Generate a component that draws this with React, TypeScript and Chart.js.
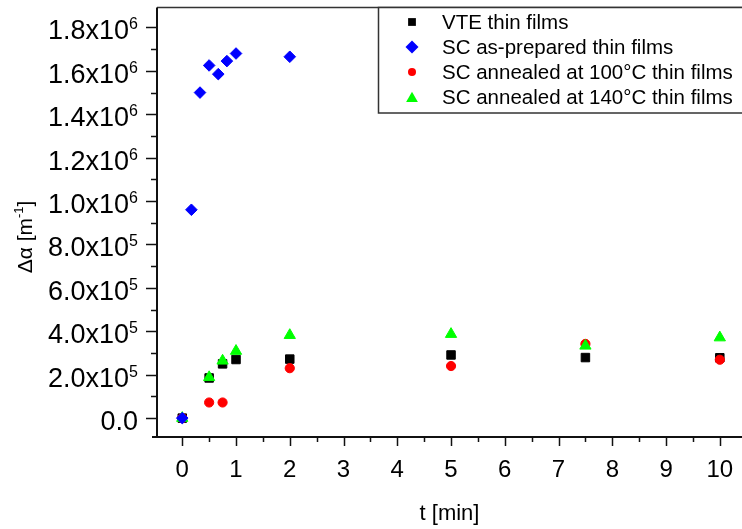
import React, { useEffect, useRef } from 'react';
import { Chart, registerables } from 'chart.js';

Chart.register(...registerables);

// ---- axis ticks ----
const X_TICKS = [0, 1, 2, 3, 4, 5, 6, 7, 8, 9, 10];
const X_MINOR = [0.5, 1.5, 2.5, 3.5, 4.5, 5.5, 6.5, 7.5, 8.5, 9.5];
const Y_TICKS = [0, 2e5, 4e5, 6e5, 8e5, 1e6, 1.2e6, 1.4e6, 1.6e6, 1.8e6];
const Y_MINOR = [1e5, 3e5, 5e5, 7e5, 9e5, 1.1e6, 1.3e6, 1.5e6, 1.7e6];
const X_MIN = -0.47;
const X_MAX = 10.45;
const Y_MIN = -8.7e4;
const Y_MAX = 1.892e6;

// ---- series ----
const SERIES_NAMES = [
  'VTE thin films',
  'SC as-prepared thin films',
  'SC annealed at 100°C thin films',
  'SC annealed at 140°C thin films',
];

const VTE_T = [0, 0.5, 0.75, 1, 2, 5, 7.5, 10];
const VTE_VAL = [0, 1.85e5, 2.5e5, 2.7e5, 2.72e5, 2.91e5, 2.79e5, 2.78e5];

const ASPREP_T = [0, 0.17, 0.33, 0.5, 0.67, 0.83, 1, 2];
const ASPREP_VAL = [0, 9.6e5, 1.5e6, 1.625e6, 1.585e6, 1.645e6, 1.68e6, 1.665e6];

const A100_T = [0, 0.5, 0.75, 2, 5, 7.5, 10];
const A100_VAL = [0, 7.2e4, 7.2e4, 2.3e5, 2.4e5, 3.42e5, 2.69e5];

const A140_T = [0, 0.5, 0.75, 1, 2, 5, 7.5, 10];
const A140_VAL = [0, 1.88e5, 2.64e5, 3.09e5, 3.82e5, 3.87e5, 3.33e5, 3.71e5];

const COLORS = ['#000000', '#0000ff', '#ff0000', '#00ff00'];
const STYLES = ['rect', 'rectRot', 'circle', 'triangle'];

const FONT = "'Liberation Sans', Arial, sans-serif";

function toPoints(t: number[], v: number[]) {
  return t.map((x, i) => ({ x, y: v[i] }));
}

function yLabelParts(v: number): [string, string] {
  if (v === 0) return ['0.0', ''];
  const e = Math.floor(Math.log10(v) + 1e-9);
  const m = v / Math.pow(10, e);
  return [m.toFixed(1) + 'x10', String(e)];
}

function drawMarker(ctx: CanvasRenderingContext2D, style: string, x: number, y: number, r: number, color: string) {
  ctx.fillStyle = color;
  ctx.beginPath();
  if (style === 'rect') {
    const s = r * Math.SQRT1_2;
    ctx.rect(x - s, y - s, 2 * s, 2 * s);
  } else if (style === 'rectRot') {
    ctx.moveTo(x - r, y);
    ctx.lineTo(x, y - r);
    ctx.lineTo(x + r, y);
    ctx.lineTo(x, y + r);
    ctx.closePath();
  } else if (style === 'circle') {
    ctx.arc(x, y, r, 0, Math.PI * 2);
  } else {
    ctx.moveTo(x, y - r);
    ctx.lineTo(x + r * 0.866, y + r * 0.5);
    ctx.lineTo(x - r * 0.866, y + r * 0.5);
    ctx.closePath();
  }
  ctx.fill();
}

const decorPlugin = {
  id: 'decor',
  afterDraw(chart: any) {
    const { ctx, chartArea: ca } = chart;
    const xs = chart.scales.x;
    const ys = chart.scales.y;
    ctx.save();

    // frame
    ctx.strokeStyle = '#333';
    ctx.lineWidth = 1.5;
    ctx.beginPath();
    ctx.moveTo(ca.left, ca.top);
    ctx.lineTo(ca.right, ca.top);
    ctx.lineTo(ca.right, ca.bottom);
    ctx.stroke();

    ctx.strokeStyle = '#111';
    ctx.lineWidth = 2;
    ctx.beginPath();
    ctx.moveTo(ca.left, ca.top);
    ctx.lineTo(ca.left, ca.bottom);
    ctx.moveTo(ca.left - 5, ca.bottom);
    ctx.lineTo(ca.right, ca.bottom);
    ctx.stroke();

    // ticks
    ctx.lineWidth = 1.5;
    ctx.beginPath();
    X_TICKS.forEach((v) => {
      const px = Math.round(xs.getPixelForValue(v)) + 0.5;
      ctx.moveTo(px, ca.bottom);
      ctx.lineTo(px, ca.bottom + 9);
    });
    X_MINOR.forEach((v) => {
      const px = Math.round(xs.getPixelForValue(v)) + 0.5;
      ctx.moveTo(px, ca.bottom);
      ctx.lineTo(px, ca.bottom + 5);
    });
    Y_TICKS.forEach((v) => {
      const py = Math.round(ys.getPixelForValue(v)) + 0.5;
      ctx.moveTo(ca.left, py);
      ctx.lineTo(ca.left - 11, py);
    });
    Y_MINOR.forEach((v) => {
      const py = Math.round(ys.getPixelForValue(v)) + 0.5;
      ctx.moveTo(ca.left, py);
      ctx.lineTo(ca.left - 6, py);
    });
    ctx.stroke();

    // x tick labels
    ctx.fillStyle = '#000';
    ctx.font = `24px ${FONT}`;
    ctx.textAlign = 'center';
    ctx.textBaseline = 'alphabetic';
    X_TICKS.forEach((v) => {
      ctx.fillText(String(v), xs.getPixelForValue(v), ca.bottom + 40);
    });

    // y tick labels with superscript exponent
    const right = ca.left - 19;
    Y_TICKS.forEach((v) => {
      const py = ys.getPixelForValue(v);
      const [main, sup] = yLabelParts(v);
      ctx.font = `16px ${FONT}`;
      const supW = sup ? ctx.measureText(sup).width : 0;
      ctx.textAlign = 'right';
      if (sup) ctx.fillText(sup, right, py + 2);
      ctx.font = `27px ${FONT}`;
      ctx.fillText(main, right - supW, py + 12);
    });

    // x title
    ctx.font = `22px ${FONT}`;
    ctx.textAlign = 'center';
    ctx.fillText('t [min]', (ca.left + ca.right) / 2 - 1, 520);

    // y title rotated
    ctx.save();
    ctx.translate(32, 237);
    ctx.rotate(-Math.PI / 2);
    ctx.textAlign = 'left';
    const f1 = `21px ${FONT}`;
    const f2 = `13px ${FONT}`;
    ctx.font = f1;
    const a = 'Δα [m';
    const wa = ctx.measureText(a).width;
    ctx.font = f2;
    const b = '-1';
    const wb = ctx.measureText(b).width;
    ctx.font = f1;
    const c = ']';
    const wc = ctx.measureText(c).width;
    let sx = -(wa + wb + wc) / 2;
    ctx.fillText(a, sx, 0);
    sx += wa;
    ctx.font = f2;
    ctx.fillText(b, sx, -9);
    sx += wb;
    ctx.font = f1;
    ctx.fillText(c, sx, 0);
    ctx.restore();

    // legend
    const lx = 378;
    const ly = ca.top;
    const lb = 113;
    ctx.fillStyle = '#fff';
    ctx.fillRect(lx, ly, ca.right + 20 - lx, lb - ly);
    ctx.strokeStyle = '#333';
    ctx.lineWidth = 1.5;
    ctx.strokeRect(lx + 0.5, ly, ca.right + 20 - lx, lb - ly);
    const legR = [5.5, 6.5, 4, 6.8];
    SERIES_NAMES.forEach((name, i) => {
      const cy = 22 + i * 25;
      drawMarker(ctx, STYLES[i], 412, i === 3 ? cy + 1.5 : cy, legR[i], COLORS[i]);
      ctx.fillStyle = '#000';
      ctx.font = `20.5px ${FONT}`;
      ctx.textAlign = 'left';
      ctx.fillText(name, 442, cy + 7);
    });

    ctx.restore();
  },
};

export default function App() {
  const ref = useRef<HTMLCanvasElement | null>(null);

  useEffect(() => {
    if (!ref.current) return;
    const series = [
      { t: VTE_T, v: VTE_VAL, r: 6, order: 3 },
      { t: ASPREP_T, v: ASPREP_VAL, r: 5.8, order: 0 },
      { t: A100_T, v: A100_VAL, r: 4.6, order: 2 },
      { t: A140_T, v: A140_VAL, r: 6.5, order: 1 },
    ];
    const chart = new Chart(ref.current, {
      type: 'scatter',
      data: {
        datasets: series.map((s, i) => ({
          label: SERIES_NAMES[i],
          data: toPoints(s.t, s.v),
          pointStyle: STYLES[i] as any,
          pointRadius: s.r,
          pointBorderWidth: 1,
          backgroundColor: COLORS[i],
          borderColor: COLORS[i],
          showLine: false,
          order: s.order,
          clip: false as any,
        })),
      },
      options: {
        responsive: false,
        maintainAspectRatio: false,
        devicePixelRatio: 1,
        animation: false,
        layout: { padding: { top: 5, right: 16, bottom: 0, left: 0 } },
        plugins: {
          legend: { display: false },
          tooltip: { enabled: false },
          title: { display: false },
        },
        scales: {
          x: {
            type: 'linear',
            min: X_MIN,
            max: X_MAX,
            grid: { display: false },
            border: { display: false },
            ticks: { display: false },
            afterBuildTicks: (s: any) => {
              s.ticks = X_TICKS.map((value) => ({ value }));
            },
            afterFit: (s: any) => {
              s.height = 92;
            },
          },
          y: {
            type: 'linear',
            min: Y_MIN,
            max: Y_MAX,
            grid: { display: false },
            border: { display: false },
            ticks: { display: false },
            afterBuildTicks: (s: any) => {
              s.ticks = Y_TICKS.map((value) => ({ value }));
            },
            afterFit: (s: any) => {
              s.width = 157;
            },
          },
        },
      },
      plugins: [decorPlugin],
    });
    return () => chart.destroy();
  }, []);

  return (
    <div
      style={{
        position: 'fixed',
        left: 0,
        top: 0,
        width: 742,
        height: 529,
        overflow: 'hidden',
        background: '#fff',
      }}
    >
      <canvas ref={ref} width={760} height={529} style={{ display: 'block', width: 760, height: 529 }} />
    </div>
  );
}
